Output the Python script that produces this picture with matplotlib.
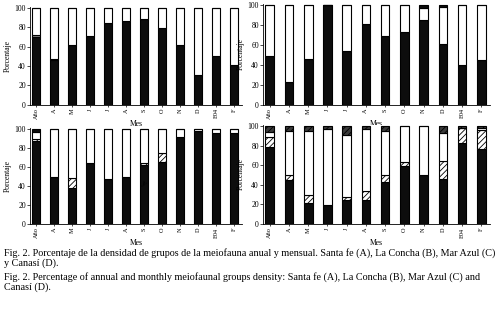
import matplotlib
matplotlib.use("Agg")
from matplotlib import pyplot as plt
import numpy as np

plt.rcParams['font.family'] = ['Liberation Serif', 'DejaVu Serif']
plt.rcParams['hatch.linewidth'] = 0.6

# months (first bar = annual)
months = ['Año', 'A', 'M', 'J', 'J', 'A', 'S', 'O', 'N', 'D', 'E04', 'F']

# Santa fe (A)
a_black = [70, 46, 62, 71, 84, 86, 88, 79, 62, 31, 50, 41]
a_hatch = [2, 1, 0, 0, 0, 0, 0, 0, 0, 0, 0, 0]
a_cap = [0, 0, 0, 0, 0, 0, 0, 0, 0, 0, 0, 0]

# La Concha (B)
b_black = [49, 23, 46, 100, 54, 81, 69, 73, 85, 61, 40, 45]
b_hatch = [0, 0, 0, 0, 0, 0, 0, 0, 0, 0, 0, 0]
b_cap = [0, 0, 0, 0, 0, 0, 0, 0, 3, 2, 0, 0]

# Mar Azul (C)
c_black = [87, 50, 38, 64, 47, 49, 62, 65, 92, 98, 96, 96]
c_hatch = [2, 0, 10, 0, 0, 0, 2, 10, 0, 0, 0, 0]
c_cap = [3, 0, 0, 0, 0, 0, 0, 0, 0, 0, 0, 0]

# Canasi (D)
d_black = [78, 45, 21, 19, 25, 25, 43, 59, 50, 46, 83, 76]
d_hatch = [11, 5, 9, 0, 3, 9, 7, 4, 0, 18, 15, 20]
d_cap = [6, 5, 5, 3, 9, 3, 5, 0, 0, 7, 2, 2]

fig = plt.figure(figsize=(5.0, 3.13), dpi=100)

# panel boxes in figure fraction: left, bottom, width, height
boxes = [
    [0.060, 0.665, 0.424, 0.313],
    [0.526, 0.665, 0.454, 0.322],
    [0.060, 0.284, 0.424, 0.307],
    [0.526, 0.284, 0.454, 0.317],
]
panels = [
    (a_black, a_hatch, a_cap),
    (b_black, b_hatch, b_cap),
    (c_black, c_hatch, c_cap),
    (d_black, d_hatch, d_cap),
]

x = np.arange(len(months))
w = 0.45
for i, (box, (blk, hat, cap)) in enumerate(zip(boxes, panels)):
    ax = fig.add_axes(box)
    blk = np.array(blk, float)
    hat = np.array(hat, float)
    cap = np.array(cap, float)
    wht = 100 - blk - hat - cap
    kw = dict(width=w, edgecolor='black', linewidth=0.8)
    ax.bar(x, blk, color='#0d0d0d', **kw)
    if i < 2:
        ax.bar(x, hat, bottom=blk, color='#8a8a8a', **kw)
    else:
        ax.bar(x, hat, bottom=blk, color='white', hatch='//////', **kw)
    ax.bar(x, wht, bottom=blk + hat, color='white', **kw)
    if i == 3:
        ax.bar(x, cap, bottom=blk + hat + wht, color='#3a3a3a', hatch='//////', **kw)
    else:
        ax.bar(x, cap, bottom=blk + hat + wht, color='#0d0d0d', **kw)
    ax.set_xlim(-0.35, 11.45)
    ax.set_ylim(0, 101)
    ax.set_yticks([0, 20, 40, 60, 80, 100])
    ax.set_xticks(x)
    ax.set_xticklabels(months, rotation=90, fontsize=4.5)
    ax.tick_params(axis='y', labelsize=5.5, length=2, width=0.5, pad=1)
    ax.tick_params(axis='x', length=1.5, width=0.5, pad=1)
    for s in ['top', 'right']:
        ax.spines[s].set_visible(False)
    for s in ['left', 'bottom']:
        ax.spines[s].set_linewidth(0.6)
    ax.set_ylabel('Porcentaje', fontsize=5.5, labelpad=2)
    ax.set_xlabel('Mes', fontsize=5.5, labelpad=0.5)
    if i == 2:
        # stray mark visible in the scanned original
        ax.text(5.75, 40, 'y', fontsize=6, rotation=-30)

cap_es = ("Fig. 2. Porcentaje de la densidad de grupos de la meiofauna anual y mensual. "
          "Santa fe (A), La Concha (B), Mar Azul (C)\ny Canasí (D).")
cap_en = ("Fig. 2. Percentage of annual and monthly meiofaunal groups density: "
          "Santa fe (A), La Concha (B), Mar Azul (C) and\nCanasí (D).")
fig.text(0.008, 0.207, cap_es, fontsize=7.3, va='top', ha='left', linespacing=1.05)
fig.text(0.008, 0.130, cap_en, fontsize=7.3, va='top', ha='left', linespacing=1.05)

fig.savefig('out.png', dpi=100)
